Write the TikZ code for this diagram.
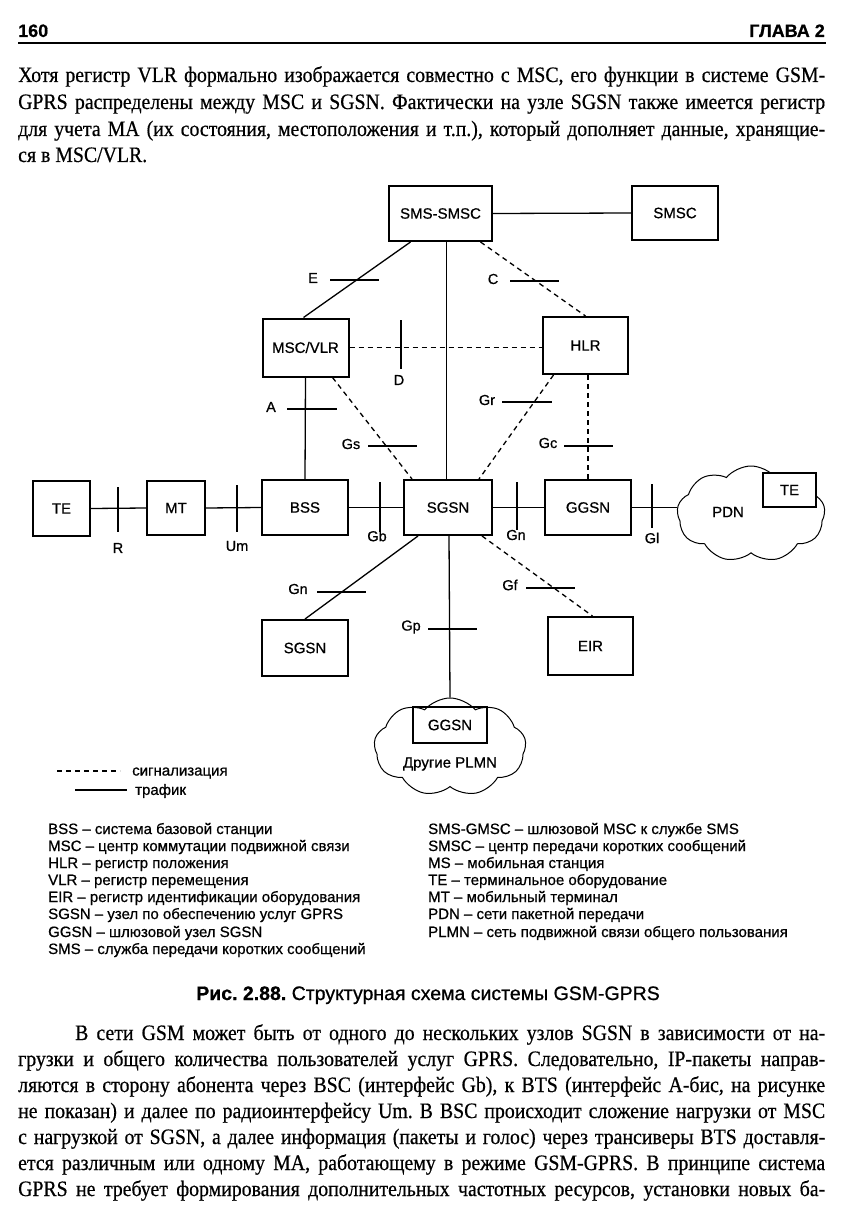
\documentclass[tikz,border=0pt]{standalone}
\usepackage{fontspec}
\setmainfont{Liberation Serif}[FakeStretch=0.9,FakeBold=0.5]
\newfontfamily\sansf{Liberation Sans}[FakeBold=0.7]
\usetikzlibrary{shapes.symbols}
\frenchspacing
\newcommand{\jl}[1]{\makebox[807pt][s]{#1}}
\begin{document}
\begin{tikzpicture}[x=1pt,y=-1pt,
  body/.style={anchor=base west,inner sep=0pt,font=\frenchspacing\fontsize{22pt}{27pt}\selectfont},
  hdr/.style={inner sep=0pt,font=\sansf\bfseries\fontsize{18pt}{20pt}\selectfont},
  box/.style={draw,line width=2pt,inner sep=0pt,font=\sansf\fontsize{15pt}{17pt}\selectfont},
  lbl/.style={inner sep=0pt,font=\sansf\fontsize{14.5pt}{16pt}\selectfont},
  conn/.style={line width=1.3pt},
  sig/.style={line width=1.3pt,dash pattern=on 5pt off 4pt},
  tick/.style={line width=1.4pt},
  abbr/.style={anchor=base west,inner sep=0pt,font=\sansf\fontsize{15pt}{17pt}\selectfont}]
\useasboundingbox[fill=white] (0,0) rectangle (842,1206);
% header
\node[hdr,anchor=base west] (pg) at (18,37) {160};
\node[hdr,anchor=base east] (ch) at (825,37) {ГЛАВА 2};
\draw[line width=2.4pt] (18,43) -- (826,43);
% paragraph 1
\node[body] (p1a) at (18,82) {\jl{Хотя регистр VLR формально изображается совместно с MSC, его функции в системе GSM-}};
\node[body] (p1b) at (18,109) {\jl{GPRS распределены между MSC и SGSN. Фактически на узле SGSN также имеется регистр}};
\node[body] (p1c) at (18,136) {\jl{для учета МА (их состояния, местоположения и т.п.), который дополняет данные, хранящие-}};
\node[body] (p1d) at (18,162) {ся в MSC/VLR.};
% boxes
\node[box,minimum width=103pt,minimum height=55pt] (sms) at (440.5,213.5) {SMS-SMSC};
\node[box,minimum width=86pt,minimum height=54pt] (smsc) at (675,213) {SMSC};
\node[box,minimum width=86pt,minimum height=58pt] (msc) at (305.5,347.5) {MSC/VLR};
\node[box,minimum width=85pt,minimum height=57pt] (hlr) at (585.5,345.5) {HLR};
\node[box,minimum width=57pt,minimum height=55pt] (te1) at (61.5,508.5) {TE};
\node[box,minimum width=58pt,minimum height=54pt] (mt) at (176,508) {MT};
\node[box,minimum width=86pt,minimum height=55pt] (bss) at (305,507.5) {BSS};
\node[box,minimum width=88pt,minimum height=55pt] (sgsn) at (448,507.5) {SGSN};
\node[box,minimum width=86pt,minimum height=55pt] (ggsn) at (588,507.5) {GGSN};
\node[box,minimum width=86pt,minimum height=56pt] (sgsn2) at (305,648) {SGSN};
\node[box,minimum width=85pt,minimum height=58pt] (eir) at (590.5,646) {EIR};
% clouds
\node[cloud,draw,line width=1pt,cloud puffs=9,cloud puff arc=100,aspect=1.5,minimum width=148pt,minimum height=96pt,inner sep=0pt] (pdn) at (751,514) {};
\node[lbl,font=\sansf\fontsize{15pt}{17pt}\selectfont] (pdnl) at (728,512) {PDN};
\node[box,fill=white,minimum width=53pt,minimum height=34pt] (te2) at (789.5,490) {TE};
\node[cloud,draw,line width=1pt,cloud puffs=9,cloud puff arc=100,aspect=1.5,minimum width=152pt,minimum height=98pt,inner sep=0pt] (plmn) at (450,747) {};
\node[box,minimum width=74pt,minimum height=36pt] (ggsn2) at (450,725) {GGSN};
\node[lbl,font=\sansf\fontsize{15pt}{17pt}\selectfont] (plmnl) at (450,764) {Другие PLMN};
% connectors
\draw[conn] (sms.east) -- (smsc.west);
\draw[conn] ([xshift=-30pt]sms.south) -- ([xshift=-2pt]msc.north);
\draw[conn] ([xshift=6pt]sms.south) -- ([xshift=-1.5pt]sgsn.north);
\draw[sig] ([xshift=40pt]sms.south) -- (hlr.north);
\draw[sig] (msc.east) -- (msc.east -| hlr.west);
\draw[conn] (msc.south) -- (bss.north);
\draw[sig] ([xshift=27pt]msc.south) -- ([xshift=-36pt]sgsn.north);
\draw[sig] ([xshift=-32pt]hlr.south) -- ([xshift=31pt]sgsn.north);
\draw[sig] ([xshift=2.5pt]hlr.south) -- (ggsn.north);
\draw[conn] (te1.east) -- (mt.west);
\draw[conn] (mt.east) -- (bss.west);
\draw[conn] (bss.east) -- (sgsn.west);
\draw[conn] (sgsn.east) -- (ggsn.west);
\draw[conn] (ggsn.east) -- (pdn.west |- ggsn.east);
\draw[conn] ([xshift=-30pt]sgsn.south) -- (sgsn2.north);
\draw[conn] ([xshift=1pt]sgsn.south) -- (plmn.north);
\draw[sig] ([xshift=34pt]sgsn.south) -- ([xshift=2pt]eir.north);
% interface ticks
\draw[tick] (330,280) -- (379,280);
\draw[tick] (510,281) -- (559,281);
\draw[tick] (401,320) -- (401,369);
\draw[tick] (287,409) -- (337,409);
\draw[tick] (368,446) -- (417,446);
\draw[tick] (502,402) -- (552,402);
\draw[tick] (564,446) -- (613,446);
\draw[tick] (118,487) -- (118,532);
\draw[tick] (237,485) -- (237,532);
\draw[tick] (380,482) -- (380,532);
\draw[tick] (517,482) -- (517,530);
\draw[tick] (652,484) -- (652,528);
\draw[tick] (317,592) -- (366,592);
\draw[tick] (428,629) -- (477,629);
\draw[tick] (526,588) -- (575,588);
% interface labels
\node[lbl] (lE) at (313,278) {E};
\node[lbl] (lC) at (493,279) {C};
\node[lbl] (lD) at (399,380) {D};
\node[lbl] (lA) at (271,407) {A};
\node[lbl] (lGs) at (351,444) {Gs};
\node[lbl] (lGr) at (487,400) {Gr};
\node[lbl] (lGc) at (548,443) {Gc};
\node[lbl] (lR) at (118,548) {R};
\node[lbl] (lUm) at (237,546) {Um};
\node[lbl] (lGb) at (377,536) {Gb};
\node[lbl] (lGn) at (516,535) {Gn};
\node[lbl] (lGl) at (652,538) {Gl};
\node[lbl] (lGn2) at (298,589) {Gn};
\node[lbl] (lGp) at (411,627) {Gp};
\node[lbl] (lGf) at (510,585) {Gf};
% legend
\coordinate (ds1) at (57,771); \coordinate (ds2) at (120,771);
\draw[sig,line width=1.1pt] (ds1) -- (ds2);
\node[abbr,anchor=west] (lsig) at (132,773) {сигнализация};
\coordinate (ts1) at (75,790); \coordinate (ts2) at (127,790);
\draw[conn] (ts1) -- (ts2);
\node[abbr,anchor=west] (ltr) at (135,791) {трафик};
% abbreviations
\node[abbr] (a1) at (48,834) {BSS – система базовой станции};
\node[abbr] (a2) at (48,851) {MSC – центр коммутации подвижной связи};
\node[abbr] (a3) at (48,868) {HLR – регистр положения};
\node[abbr] (a4) at (48,885) {VLR – регистр перемещения};
\node[abbr] (a5) at (48,902) {EIR – регистр идентификации оборудования};
\node[abbr] (a6) at (48,919) {SGSN – узел по обеспечению услуг GPRS};
\node[abbr] (a7) at (48,937) {GGSN – шлюзовой узел SGSN};
\node[abbr] (a8) at (48,954) {SMS – служба передачи коротких сообщений};
\node[abbr] (b1) at (428,834) {SMS-GMSC – шлюзовой MSC к службе SMS};
\node[abbr] (b2) at (428,851) {SMSC – центр передачи коротких сообщений};
\node[abbr] (b3) at (428,868) {MS – мобильная станция};
\node[abbr] (b4) at (428,885) {TE – терминальное оборудование};
\node[abbr] (b5) at (428,902) {MT – мобильный терминал};
\node[abbr] (b6) at (428,919) {PDN – сети пакетной передачи};
\node[abbr] (b7) at (428,937) {PLMN – сеть подвижной связи общего пользования};
% caption
\node[inner sep=0pt,anchor=base,font=\sansf\fontsize{19.5pt}{21pt}\selectfont] (cap) at (428,1000) {\textbf{Рис. 2.88.} Структурная схема системы GSM-GPRS};
% paragraph 2
\node[body] (p2a) at (75,1040) {\makebox[750pt][s]{В сети GSM может быть от одного до нескольких узлов SGSN в зависимости от на-}};
\node[body] (p2b) at (18,1066) {\jl{грузки и общего количества пользователей услуг GPRS. Следовательно, IP-пакеты направ-}};
\node[body] (p2c) at (18,1092) {\jl{ляются в сторону абонента через BSC (интерфейс Gb), к BTS (интерфейс А-бис, на рисунке}};
\node[body] (p2d) at (18,1118) {\jl{не показан) и далее по радиоинтерфейсу Um. В BSC происходит сложение нагрузки от MSC}};
\node[body] (p2e) at (18,1144) {\jl{с нагрузкой от SGSN, а далее информация (пакеты и голос) через трансиверы BTS доставля-}};
\node[body] (p2f) at (18,1170) {\jl{ется различным или одному МА, работающему в режиме GSM-GPRS. В принципе система}};
\node[body] (p2g) at (18,1196) {\jl{GPRS не требует формирования дополнительных частотных ресурсов, установки новых ба-}};
\end{tikzpicture}
\end{document}
